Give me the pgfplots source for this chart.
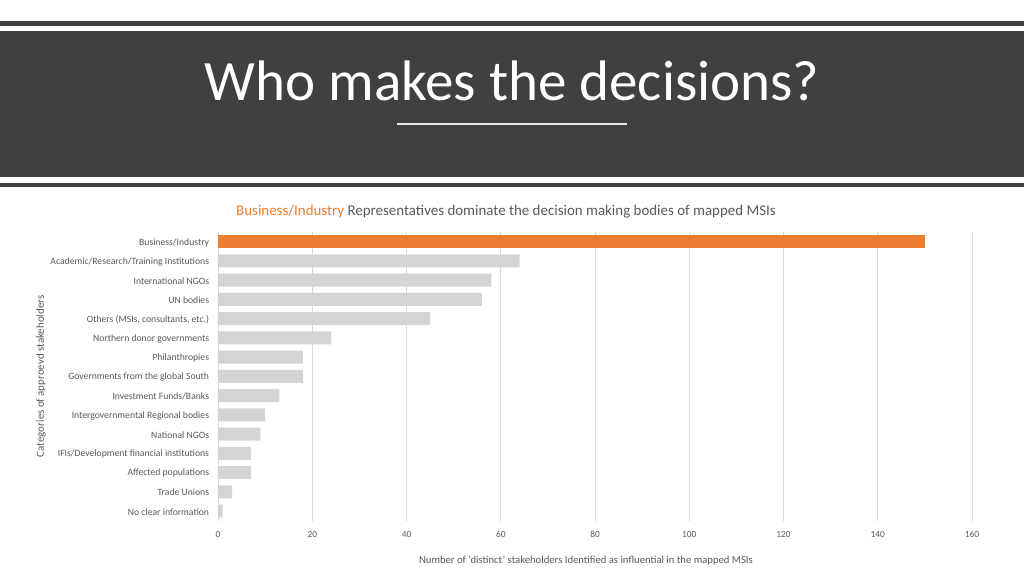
\documentclass[border=0pt]{standalone}
\usepackage{pgfplots}
\pgfplotsset{compat=1.18}
\usepackage{fontspec}
\setmainfont{Carlito}
\definecolor{slidedark}{HTML}{404040}
\definecolor{barorange}{HTML}{ED7D31}
\definecolor{bargrey}{HTML}{D4D4D4}
\definecolor{txtgrey}{HTML}{595959}
\definecolor{gridgrey}{HTML}{D9D9D9}

\begin{document}
\begin{tikzpicture}
\begin{scope}[x=0.75pt,y=-0.75pt]
\useasboundingbox (0,0) rectangle (1024,576);
\fill[white] (0,0) rectangle (1024,576);
% slide header
\fill[slidedark] (0,21) rectangle (1024,25.5);
\fill[slidedark] (0,31) rectangle (1024,176.5);
\fill[slidedark] (0,182.5) rectangle (1024,187);
\node[white, font=\fontsize{42.8}{43}\selectfont, anchor=base, inner sep=0pt] at (512,100) {Who makes the decisions?};
\draw[white!80!gray, line width=1.1pt] (397,124) -- (627,124);
\node[font=\fontsize{11.2}{12}\selectfont, text=txtgrey, anchor=base, inner sep=0pt] at (506,215)
  {\textcolor{barorange}{Business/Industry} Representatives dominate the decision making bodies of mapped MSIs};
\end{scope}

\begin{axis}[
    at={(163.5pt,-174pt)}, anchor=north west,
    scale only axis,
    width=565.5pt, height=216.5pt,
    xbar, bar width=9.75pt, bar shift=0pt,
    xmin=0, xmax=160,
    ymin=-0.5, ymax=14.5, y dir=reverse,
    xtick={0,20,...,160},
    ytick={0,...,14},
    yticklabels={Business/Industry, Academic/Research/Training Institutions, International NGOs, UN bodies, {Others (MSIs, consultants, etc.)}, Northern donor governments, Philanthropies, Governments from the global South, Investment Funds/Banks, Intergovernmental Regional bodies, National NGOs, IFIs/Development financial institutions, Affected populations, Trade Unions, No clear information},
    xmajorgrids,
    grid style={gridgrey, line width=0.6pt},
    axis line style={draw=none},
    major tick length=0pt,
    yticklabel style={font=\fontsize{7.25}{8}\selectfont, text=txtgrey, anchor=east, inner sep=0pt, xshift=-6.5pt, yshift=-0.6pt},
    xticklabel style={font=\fontsize{7}{8}\selectfont, text=txtgrey, inner sep=0pt, yshift=-7.5pt},
    /pgf/number format/assume math mode=true,
    xlabel={Number of ‘distinct’ stakeholders Identified as influential in the mapped MSIs},
    xlabel style={font=\fontsize{8}{9}\selectfont, text=txtgrey, at={(axis description cs:0.488,-0.1385)}, anchor=center, inner sep=0pt},
    ylabel={Categories of approevd stakeholders},
    ylabel style={font=\fontsize{8.2}{9}\selectfont, text=txtgrey, at={(axis description cs:-0.2347,0.5)}, anchor=center, rotate=0, inner sep=0pt},
]
\addplot[fill=barorange, draw=none] coordinates {(150,0)};
\addplot[fill=bargrey, draw=none] coordinates {
    (64,1) (58,2) (56,3) (45,4) (24,5) (18,6) (18,7)
    (13,8) (10,9) (9,10) (7,11) (7,12) (3,13) (1,14)};
\end{axis}
\end{tikzpicture}
\end{document}
